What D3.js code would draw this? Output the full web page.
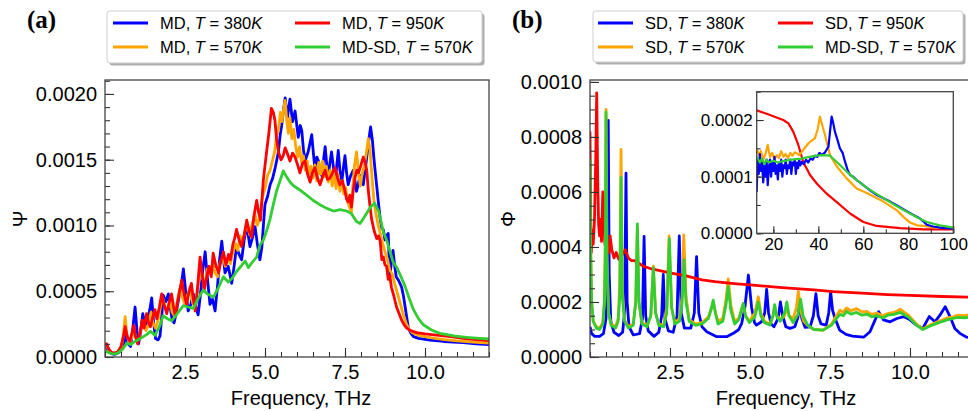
<!DOCTYPE html>
<html>
<head>
<meta charset="utf-8">
<script src="https://cdn.jsdelivr.net/npm/d3@7"></script>
<style>
  body { margin: 0; background: #fff; }
  svg { display: block; font-family: "Liberation Sans", Arial, sans-serif; }
</style>
</head>
<body>
<div id="chart"></div>
<script>
// all spectra values are in units of 1e-4, frequency in THz

// (a) MD spectra, Psi
const mdBlue380 = [[0,0.9],[0.05,0.7],[0.12,0.4],[0.2,0.25],[0.3,0.2],[0.4,0.3],[0.5,0.5],[0.58,0.9],[0.65,1.6],[0.72,1.0],[0.8,0.8],[0.87,2.2],[0.94,3.8],[1.0,2.0],[1.05,1.0],[1.12,2.0],[1.18,3.3],[1.26,2.4],[1.34,2.9],[1.4,3.6],[1.46,4.5],[1.52,2.6],[1.58,1.4],[1.66,1.3],[1.72,1.6],[1.77,3.0],[1.82,4.7],[1.9,4.2],[1.98,4.8],[2.05,3.6],[2.1,2.8],[2.16,2.6],[2.22,3.3],[2.3,4.4],[2.38,5.4],[2.45,6.7],[2.52,5.0],[2.6,3.5],[2.68,4.0],[2.76,4.8],[2.84,3.8],[2.91,3.2],[2.98,4.7],[3.05,6.5],[3.13,8.0],[3.2,6.0],[3.28,4.0],[3.36,4.4],[3.44,3.5],[3.52,5.5],[3.58,7.4],[3.65,8.8],[3.7,7.5],[3.75,6.4],[3.85,6.9],[3.96,5.6],[4.04,7.0],[4.11,8.4],[4.19,7.8],[4.27,7.4],[4.35,8.9],[4.43,10.1],[4.48,9.2],[4.53,8.4],[4.6,9.0],[4.69,9.9],[4.76,8.6],[4.84,7.4],[4.9,8.3],[4.95,10.0],[5.0,11.6],[5.08,12.2],[5.16,13.1],[5.24,13.6],[5.31,14.3],[5.37,15.0],[5.42,15.6],[5.47,16.8],[5.52,17.6],[5.58,18.8],[5.63,19.7],[5.7,18.2],[5.78,19.6],[5.86,17.9],[5.94,18.7],[6.04,16.7],[6.1,17.6],[6.15,17.2],[6.2,15.8],[6.25,14.9],[6.35,15.6],[6.46,16.9],[6.52,15.3],[6.56,14.3],[6.62,15.2],[6.67,14.9],[6.72,14.0],[6.77,13.8],[6.83,15.0],[6.88,16.0],[6.93,14.6],[6.98,13.8],[7.03,14.8],[7.08,15.6],[7.14,14.4],[7.19,13.3],[7.24,14.5],[7.29,15.7],[7.34,14.2],[7.4,13.3],[7.45,14.4],[7.5,15.3],[7.55,14.0],[7.6,13.1],[7.68,13.8],[7.76,14.2],[7.81,13.4],[7.86,12.6],[7.92,13.2],[7.97,13.8],[8.02,13.4],[8.07,13.1],[8.14,14.4],[8.2,15.6],[8.26,16.8],[8.3,17.5],[8.36,16.4],[8.4,15.2],[8.44,14.2],[8.5,12.8],[8.55,11.6],[8.6,10.5],[8.65,9.8],[8.7,9.66],[8.75,8.9],[8.8,9.2],[8.85,9.4],[8.9,6.1],[8.95,7.2],[9.0,8.1],[9.05,7.0],[9.1,6.1],[9.18,5.8],[9.27,5.3],[9.33,4.6],[9.38,3.8],[9.43,3.0],[9.48,2.2],[9.56,1.8],[9.64,1.55],[9.8,1.42],[10.16,1.29],[10.6,1.18],[11.2,1.09],[11.6,1.0],[12.0,0.95]];

const mdOrange570 = [[0,0.8],[0.05,0.9],[0.12,0.5],[0.2,0.3],[0.3,0.25],[0.4,0.35],[0.5,0.6],[0.56,1.4],[0.63,3.06],[0.68,1.8],[0.76,1.0],[0.84,1.5],[0.9,2.1],[0.97,1.4],[1.05,1.3],[1.12,2.1],[1.2,2.7],[1.28,2.0],[1.36,2.5],[1.44,3.4],[1.5,2.6],[1.58,2.2],[1.66,2.8],[1.74,3.9],[1.8,4.5],[1.88,3.8],[1.95,3.6],[2.03,4.3],[2.1,3.4],[2.18,3.1],[2.26,4.3],[2.34,5.2],[2.42,4.5],[2.5,4.0],[2.58,4.7],[2.66,5.3],[2.74,4.1],[2.82,3.8],[2.9,5.2],[2.98,6.8],[3.05,6.0],[3.12,5.4],[3.2,6.7],[3.28,6.3],[3.36,7.1],[3.44,6.4],[3.52,6.1],[3.6,7.2],[3.68,7.6],[3.76,6.9],[3.84,7.5],[3.92,7.1],[4.0,8.0],[4.08,8.6],[4.15,8.1],[4.22,9.2],[4.3,8.8],[4.38,9.6],[4.46,10.0],[4.52,9.3],[4.6,10.1],[4.68,10.9],[4.76,10.0],[4.84,10.6],[4.92,12.2],[5.0,12.8],[5.08,13.8],[5.16,14.2],[5.24,15.0],[5.3,15.6],[5.36,16.8],[5.42,17.2],[5.48,18.6],[5.53,17.9],[5.58,18.8],[5.63,19.5],[5.68,18.0],[5.73,17.0],[5.78,18.2],[5.84,16.6],[5.9,17.3],[5.96,16.0],[6.02,15.2],[6.08,16.0],[6.14,14.8],[6.2,15.3],[6.26,14.2],[6.32,14.9],[6.38,13.8],[6.44,14.5],[6.5,13.6],[6.56,14.6],[6.62,13.4],[6.68,14.8],[6.74,13.9],[6.8,14.9],[6.86,13.7],[6.92,14.5],[6.98,13.3],[7.04,14.2],[7.1,13.0],[7.16,14.0],[7.22,12.8],[7.28,13.9],[7.34,12.6],[7.4,13.4],[7.46,12.4],[7.52,12.9],[7.58,11.8],[7.64,11.4],[7.7,11.0],[7.74,12.8],[7.8,14.6],[7.86,15.6],[7.92,14.0],[7.98,13.0],[8.04,14.0],[8.1,14.5],[8.16,15.4],[8.23,16.6],[8.28,15.8],[8.34,13.8],[8.4,12.0],[8.46,11.0],[8.52,10.2],[8.6,9.4],[8.68,8.6],[8.75,8.0],[8.82,7.5],[8.9,6.6],[8.98,6.3],[9.05,5.6],[9.12,5.0],[9.2,4.3],[9.28,3.6],[9.35,3.0],[9.42,2.5],[9.5,2.1],[9.6,1.85],[9.8,1.65],[10.2,1.45],[10.6,1.32],[11.0,1.22],[11.5,1.13],[12.0,1.05]];

const mdRed950 = [[0,0.9],[0.05,1.0],[0.12,0.6],[0.2,0.35],[0.3,0.3],[0.4,0.4],[0.5,0.8],[0.58,1.6],[0.63,2.3],[0.7,1.5],[0.78,1.2],[0.85,1.9],[0.9,2.4],[0.96,1.5],[1.02,1.0],[1.1,1.9],[1.16,2.8],[1.22,2.2],[1.3,3.3],[1.36,2.6],[1.42,2.3],[1.5,3.1],[1.56,3.6],[1.62,2.9],[1.7,3.8],[1.77,4.8],[1.84,4.0],[1.93,3.3],[2.0,4.1],[2.08,4.8],[2.15,3.7],[2.2,3.1],[2.27,4.2],[2.33,5.0],[2.4,5.85],[2.47,4.8],[2.55,4.0],[2.62,4.9],[2.7,5.6],[2.76,4.4],[2.82,3.5],[2.9,5.5],[2.97,7.6],[3.04,6.2],[3.1,5.1],[3.17,6.0],[3.25,6.9],[3.32,6.1],[3.38,7.9],[3.46,7.0],[3.55,6.4],[3.62,7.3],[3.7,8.0],[3.78,7.0],[3.86,7.8],[3.92,7.4],[4.0,8.6],[4.05,9.0],[4.11,9.7],[4.19,8.9],[4.27,8.4],[4.35,9.3],[4.43,10.4],[4.5,9.6],[4.58,9.1],[4.66,10.8],[4.74,11.9],[4.8,11.0],[4.86,10.4],[4.95,13.5],[5.05,15.6],[5.12,17.0],[5.2,18.9],[5.26,18.6],[5.31,18.0],[5.36,16.6],[5.42,15.6],[5.5,15.0],[5.57,15.3],[5.63,15.9],[5.68,15.6],[5.78,14.9],[5.86,15.5],[5.94,15.2],[6.02,14.6],[6.09,14.0],[6.17,14.7],[6.25,14.9],[6.33,13.9],[6.41,13.3],[6.48,14.0],[6.56,14.4],[6.64,13.6],[6.72,13.1],[6.8,13.7],[6.88,14.2],[6.95,13.5],[7.03,13.6],[7.11,14.0],[7.19,14.4],[7.27,13.6],[7.34,13.1],[7.42,13.4],[7.5,12.6],[7.55,12.0],[7.6,11.8],[7.65,12.3],[7.7,11.4],[7.76,12.7],[7.81,13.6],[7.87,14.2],[7.92,14.0],[8.0,14.6],[8.07,15.2],[8.13,14.8],[8.18,14.2],[8.23,12.6],[8.28,11.5],[8.33,10.5],[8.41,9.6],[8.49,9.0],[8.55,9.2],[8.6,8.8],[8.65,7.4],[8.7,7.6],[8.75,7.0],[8.8,6.9],[8.85,5.9],[8.9,6.2],[8.95,5.3],[9.03,4.6],[9.11,3.8],[9.19,3.3],[9.27,2.8],[9.35,2.45],[9.43,2.2],[9.55,2.0],[9.74,1.85],[10.0,1.76],[10.36,1.67],[10.8,1.55],[11.2,1.42],[11.6,1.32],[12.0,1.24]];

const mdsdGreenA = [[0,0.45],[0.1,0.35],[0.25,0.22],[0.4,0.3],[0.55,0.6],[0.68,1.05],[0.8,0.95],[0.95,1.2],[1.1,1.4],[1.2,1.55],[1.3,1.7],[1.42,1.95],[1.56,1.65],[1.7,2.3],[1.82,3.15],[1.95,2.9],[2.08,2.75],[2.2,3.1],[2.32,3.5],[2.45,3.9],[2.6,3.8],[2.76,3.7],[2.9,4.4],[3.07,5.1],[3.2,4.8],[3.39,4.55],[3.55,5.3],[3.7,6.1],[3.85,5.7],[3.98,6.0],[4.11,6.5],[4.25,6.9],[4.38,7.3],[4.48,6.8],[4.6,7.2],[4.74,7.6],[4.84,8.5],[4.95,8.9],[5.05,9.6],[5.16,10.5],[5.26,11.6],[5.36,12.6],[5.47,13.4],[5.57,14.15],[5.65,13.8],[5.78,13.3],[5.9,13.0],[6.09,12.7],[6.3,12.3],[6.51,11.9],[6.7,11.6],[6.93,11.3],[7.14,11.1],[7.35,11.2],[7.55,11.1],[7.7,10.9],[7.86,10.3],[7.97,10.15],[8.07,10.5],[8.18,10.95],[8.3,11.4],[8.42,11.7],[8.55,11.1],[8.7,9.5],[8.8,8.9],[9.0,7.25],[9.12,6.8],[9.25,6.1],[9.38,5.35],[9.5,4.5],[9.64,3.6],[9.8,2.9],[9.95,2.45],[10.2,2.05],[10.47,1.8],[10.9,1.6],[11.3,1.5],[11.7,1.42],[12,1.37]];

// (b) SD spectra, Phi
const sdBlue380 = [[0,1.1],[0.05,0.85],[0.15,0.75],[0.3,0.75],[0.42,0.85],[0.5,1.4],[0.54,3.0],[0.57,8.6],[0.6,3.0],[0.65,1.3],[0.75,0.9],[0.9,0.78],[1.02,0.9],[1.08,1.6],[1.125,6.68],[1.16,2.0],[1.22,1.1],[1.35,0.8],[1.55,0.85],[1.64,1.4],[1.69,4.38],[1.74,1.5],[1.82,0.95],[2.0,0.75],[2.15,0.9],[2.24,1.5],[2.29,3.0],[2.34,1.4],[2.45,0.95],[2.6,0.9],[2.72,1.5],[2.79,4.4],[2.85,1.6],[2.95,1.05],[3.15,1.05],[3.26,1.6],[3.33,3.65],[3.4,1.6],[3.5,1.1],[3.65,0.92],[3.96,0.74],[4.27,0.74],[4.48,0.86],[4.65,1.0],[4.74,1.22],[4.84,1.8],[4.95,2.98],[5.05,1.8],[5.14,1.25],[5.2,1.16],[5.36,1.28],[5.46,1.6],[5.52,2.46],[5.58,1.6],[5.66,1.2],[5.75,1.1],[5.88,1.4],[5.95,2.0],[6.02,1.5],[6.12,1.1],[6.25,1.04],[6.4,1.1],[6.5,1.45],[6.56,2.07],[6.62,1.4],[6.72,1.08],[6.88,1.1],[6.98,1.5],[7.06,2.3],[7.13,1.5],[7.22,1.2],[7.38,1.16],[7.46,1.6],[7.52,2.38],[7.58,1.7],[7.66,1.4],[7.8,0.98],[8.0,0.82],[8.2,0.76],[8.55,0.72],[8.75,0.92],[8.91,1.35],[9.02,1.65],[9.17,1.35],[9.38,1.28],[9.59,1.4],[9.8,1.47],[10.0,1.35],[10.2,1.16],[10.4,1.04],[10.6,1.47],[10.78,1.28],[10.94,1.53],[11.1,1.83],[11.25,1.47],[11.4,1.04],[11.56,0.86],[11.77,0.72],[12,0.7]];

const sdOrange570 = [[0,7.2],[0.02,4.0],[0.05,2.0],[0.1,1.3],[0.2,1.1],[0.3,1.05],[0.4,1.25],[0.45,2.0],[0.48,4.2],[0.5,9.0],[0.53,3.6],[0.58,1.6],[0.66,1.2],[0.8,1.1],[0.88,1.4],[0.93,2.6],[0.97,7.55],[1.01,2.5],[1.08,1.35],[1.2,1.1],[1.35,1.2],[1.43,2.0],[1.48,4.7],[1.53,2.0],[1.62,1.25],[1.78,1.15],[1.9,1.5],[1.98,3.3],[2.05,1.6],[2.15,1.2],[2.3,1.15],[2.4,1.8],[2.47,4.4],[2.55,1.8],[2.65,1.25],[2.8,1.4],[2.88,2.2],[2.93,4.44],[3.0,2.2],[3.1,1.35],[3.3,1.2],[3.5,1.25],[3.7,1.45],[3.8,1.8],[3.85,2.0],[3.92,1.6],[4.0,1.3],[4.15,1.4],[4.25,2.1],[4.32,2.84],[4.4,1.9],[4.52,1.3],[4.65,1.4],[4.73,1.7],[4.79,1.9],[4.86,1.5],[4.98,1.3],[5.15,1.6],[5.26,2.19],[5.34,1.6],[5.45,1.3],[5.62,1.2],[5.72,1.5],[5.77,1.85],[5.84,1.5],[5.95,1.35],[6.08,1.5],[6.15,1.8],[6.22,1.5],[6.35,1.4],[6.45,1.8],[6.51,2.38],[6.58,1.7],[6.68,1.3],[6.8,1.15],[7.0,1.0],[7.29,0.98],[7.55,1.2],[7.7,1.5],[7.81,1.7],[7.9,1.62],[8.02,1.78],[8.15,1.68],[8.33,1.76],[8.5,1.64],[8.65,1.66],[8.8,1.55],[8.96,1.6],[9.15,1.5],[9.3,1.58],[9.5,1.62],[9.7,1.74],[9.85,1.6],[9.95,1.52],[10.2,1.2],[10.4,1.02],[10.55,1.12],[10.7,1.2],[10.9,1.3],[11.16,1.42],[11.35,1.46],[11.5,1.52],[11.7,1.5],[12,1.58]];

const sdRed950 = [[0,8.2],[0.02,5.0],[0.04,3.8],[0.07,4.6],[0.1,4.1],[0.14,5.0],[0.18,7.2],[0.21,9.6],[0.24,6.5],[0.27,4.8],[0.3,4.4],[0.33,5.0],[0.36,4.2],[0.4,6.0],[0.43,5.5],[0.46,4.2],[0.5,3.8],[0.55,4.1],[0.6,3.8],[0.63,4.4],[0.68,3.9],[0.75,3.6],[0.82,3.8],[0.9,3.55],[1.0,3.7],[1.1,3.9],[1.2,3.6],[1.3,3.5],[1.4,3.5],[1.67,3.3],[1.93,3.2],[2.5,3.06],[3.0,2.95],[3.5,2.8],[3.9,2.74],[4.5,2.67],[5.0,2.62],[6.0,2.52],[7.0,2.44],[7.6,2.38],[8.5,2.32],[9.3,2.27],[10.0,2.24],[11.0,2.2],[12.0,2.17]];

const mdsdGreenB = [[0,7.2],[0.02,4.0],[0.05,2.0],[0.1,1.3],[0.2,1.05],[0.3,1.0],[0.4,1.2],[0.45,2.0],[0.48,4.0],[0.5,8.9],[0.53,3.5],[0.58,1.6],[0.66,1.15],[0.8,1.05],[0.88,1.3],[0.93,2.2],[0.97,6.53],[1.01,2.2],[1.08,1.3],[1.2,1.05],[1.35,1.15],[1.43,2.0],[1.48,4.84],[1.53,2.0],[1.62,1.2],[1.78,1.1],[1.9,1.5],[1.98,3.25],[2.05,1.6],[2.15,1.15],[2.3,1.1],[2.4,1.6],[2.48,4.3],[2.55,1.8],[2.65,1.2],[2.8,1.3],[2.88,2.0],[2.94,3.53],[3.0,2.0],[3.1,1.3],[3.3,1.15],[3.5,1.2],[3.7,1.4],[3.8,1.8],[3.85,2.07],[3.92,1.6],[4.0,1.2],[4.15,1.3],[4.25,1.9],[4.32,2.56],[4.4,1.7],[4.52,1.2],[4.65,1.35],[4.73,1.7],[4.79,1.95],[4.86,1.5],[4.98,1.25],[5.15,1.45],[5.26,2.0],[5.34,1.5],[5.45,1.25],[5.62,1.16],[5.72,1.5],[5.77,1.9],[5.84,1.45],[5.95,1.3],[6.08,1.6],[6.15,2.0],[6.22,1.5],[6.35,1.25],[6.5,1.55],[6.58,2.1],[6.66,1.5],[6.8,1.16],[7.0,1.0],[7.29,0.98],[7.55,1.16],[7.7,1.4],[7.81,1.55],[7.92,1.5],[8.02,1.66],[8.15,1.56],[8.33,1.62],[8.5,1.52],[8.65,1.56],[8.8,1.46],[8.96,1.5],[9.15,1.42],[9.3,1.52],[9.5,1.55],[9.7,1.62],[9.85,1.52],[9.95,1.45],[10.2,1.16],[10.4,1.0],[10.55,1.08],[10.7,1.16],[10.9,1.25],[11.16,1.35],[11.35,1.4],[11.5,1.44],[11.7,1.42],[12,1.47]];

// (b) inset
const inBlue380 = [[12.6,0.73],[13.0,1.3],[13.5,1.05],[14,1.4],[14.5,1.1],[15,1.25],[15.5,0.9],[16,1.2],[16.5,1.0],[17,1.3],[17.5,0.85],[18,1.15],[18.5,1.3],[19,1.0],[19.5,1.25],[20,1.1],[20.5,1.35],[21,1.05],[21.5,1.2],[22,0.95],[22.5,1.25],[23,1.1],[23.5,1.3],[24,1.0],[24.5,1.2],[25,1.15],[25.5,1.3],[26,1.05],[26.5,1.2],[27,1.15],[27.5,1.3],[28,1.05],[28.5,1.25],[29,1.2],[29.5,1.3],[30,1.05],[30.5,1.25],[31,1.15],[31.5,1.3],[32,1.2],[32.6,1.26],[33.5,1.22],[34.5,1.3],[35.5,1.25],[36.5,1.32],[37.5,1.3],[38.5,1.37],[39.5,1.35],[40.5,1.42],[41.5,1.38],[43,1.43],[44.5,1.53],[45.2,1.8],[45.9,2.06],[46.6,1.95],[47.4,1.79],[48.5,1.65],[49.6,1.5],[50.8,1.42],[51.9,1.26],[53,1.12],[54.1,1.03],[55.5,1.0],[57,0.94],[58.5,0.9],[60,0.85],[63,0.76],[65.9,0.68],[68.9,0.62],[71.9,0.56],[75,0.49],[79.3,0.39],[82,0.33],[85.2,0.26],[87,0.2],[88.2,0.15],[91,0.12],[94.1,0.1],[100,0.08]];
const inOrange570 = [[12.6,1.5],[13.5,1.38],[14.5,1.45],[15.5,1.3],[16.5,1.4],[17.5,1.56],[18.5,1.35],[19.5,1.42],[20.5,1.3],[21.5,1.38],[22.5,1.33],[23.5,1.45],[24.5,1.35],[25.5,1.4],[26.5,1.33],[27.5,1.42],[28.5,1.37],[29.5,1.43],[30.4,1.41],[31.5,1.38],[33.3,1.47],[35.6,1.59],[38.5,1.68],[39.8,1.85],[40.7,2.06],[41.8,1.9],[43,1.73],[45.2,1.38],[48.2,1.18],[52.6,0.97],[57,0.79],[61.5,0.71],[65,0.64],[68.9,0.56],[72,0.48],[74.8,0.41],[77.8,0.29],[80.8,0.19],[84,0.14],[86.7,0.13],[92,0.1],[100,0.09]];
const inRed950 = [[12.6,2.17],[18.5,2.09],[24.4,2.0],[26.7,1.94],[28.9,1.79],[31.1,1.56],[33.3,1.26],[36.3,1.03],[39.3,0.88],[43.7,0.7],[48.2,0.55],[54.1,0.35],[60,0.2],[65.9,0.13],[76.3,0.09],[86.7,0.07],[100,0.07]];
const inGreen570 = [[12.6,1.35],[14,1.25],[15,1.32],[16,1.22],[17,1.3],[18,1.25],[20,1.28],[22,1.25],[25,1.28],[28,1.3],[32.6,1.32],[36,1.35],[39.3,1.37],[42,1.38],[45.2,1.37],[48.2,1.26],[52.6,1.09],[56,0.97],[60,0.85],[64,0.74],[68.9,0.62],[74,0.5],[79.3,0.38],[84,0.28],[88.2,0.2],[94,0.14],[100,0.1]];

// ticks
const freqMajor = [2.5, 5, 7.5, 10];
const psiMajor = [0, 5, 10, 15, 20];
const phiMajor = [0, 2, 4, 6, 8, 10];
const insetXMajor = [20, 40, 60, 80, 100];
const insetYMajor = [0, 1, 2];

const legendA = [
  { name: 'MD, ', T: '380', color: '#0000ff' },
  { name: 'MD, ', T: '950', color: '#ff0000' },
  { name: 'MD, ', T: '570', color: '#ffa500' },
  { name: 'MD-SD, ', T: '570', color: '#32cd32' }
];
const legendB = [
  { name: 'SD, ', T: '380', color: '#0000ff' },
  { name: 'SD, ', T: '950', color: '#ff0000' },
  { name: 'SD, ', T: '570', color: '#ffa500' },
  { name: 'MD-SD, ', T: '570', color: '#32cd32' }
];

const svg = d3.select('#chart').append('svg')
  .attr('width', 968)
  .attr('height', 411);

const fmt4 = d => (d * 1e-4).toFixed(4);
let clipId = 0;

function drawPlot(o) {
  const x = d3.scaleLinear().domain(o.xDomain).range([o.left, o.right]);
  const y = d3.scaleLinear().domain(o.yDomain).range([o.bottom, o.top]);
  const g = svg.append('g');

  g.append('rect')
    .attr('x', o.left).attr('y', o.top)
    .attr('width', o.right - o.left).attr('height', o.bottom - o.top)
    .attr('fill', '#fff');

  const id = 'clip' + (clipId++);
  g.append('clipPath').attr('id', id).append('rect')
    .attr('x', o.left).attr('y', o.top)
    .attr('width', o.right - o.left).attr('height', o.bottom - o.top);

  const line = d3.line().x(d => x(d[0])).y(d => y(d[1]));
  const lg = g.append('g').attr('clip-path', `url(#${id})`);
  o.series.forEach(s => {
    lg.append('path')
      .attr('d', line(s.data))
      .attr('fill', 'none')
      .attr('stroke', s.color)
      .attr('stroke-width', o.lw)
      .attr('stroke-linejoin', 'round');
  });

  // minor ticks, pointing inward
  const xMinor = d3.range(o.xDomain[0] - (o.xDomain[0] % o.xMinorStep), o.xDomain[1] + 1e-9, o.xMinorStep)
    .filter(v => v >= o.xDomain[0]);
  const yMinor = d3.range(0, o.yDomain[1] + 1e-9, o.yMinorStep);
  g.append('g').attr('transform', `translate(0,${o.bottom})`)
    .call(d3.axisBottom(x).tickValues(xMinor).tickSize(-o.minorLen).tickFormat(''))
    .call(a => a.select('.domain').remove());
  g.append('g').attr('transform', `translate(${o.left},0)`)
    .call(d3.axisLeft(y).tickValues(yMinor).tickSize(-o.minorLen).tickFormat(''))
    .call(a => a.select('.domain').remove());

  // major ticks
  g.append('g').attr('transform', `translate(0,${o.bottom})`)
    .call(d3.axisBottom(x).tickValues(o.xMajor).tickSize(-o.majorLen).tickPadding(o.xPad)
      .tickFormat(o.xFormat))
    .call(a => a.select('.domain').remove())
    .call(a => a.selectAll('text').attr('fill', '#000').style('font-size', o.fontSize + 'px'));
  g.append('g').attr('transform', `translate(${o.left},0)`)
    .call(d3.axisLeft(y).tickValues(o.yMajor).tickSize(-o.majorLen).tickPadding(o.yPad)
      .tickFormat(fmt4))
    .call(a => a.select('.domain').remove())
    .call(a => a.selectAll('text').attr('fill', '#000').style('font-size', o.fontSize + 'px'));

  g.selectAll('.tick line').attr('stroke', '#333').attr('stroke-width', 1.1);

  g.append('rect')
    .attr('x', o.left).attr('y', o.top)
    .attr('width', o.right - o.left).attr('height', o.bottom - o.top)
    .attr('fill', 'none').attr('stroke', '#444').attr('stroke-width', 1.3);
}

function drawLegend(items, box) {
  const g = svg.append('g');
  g.append('rect')
    .attr('x', box.x + 2.5).attr('y', box.y + 2.5)
    .attr('width', box.w).attr('height', box.h)
    .attr('rx', 3).attr('fill', '#9a9a9a').attr('opacity', 0.8);
  g.append('rect')
    .attr('x', box.x).attr('y', box.y)
    .attr('width', box.w).attr('height', box.h)
    .attr('rx', 3).attr('fill', '#fff').attr('stroke', '#cfcfcf').attr('stroke-width', 1);
  items.forEach((d, i) => {
    const col = i % 2, row = Math.floor(i / 2);
    const lx = box.cols[col], ly = box.y + 12 + row * 24;
    g.append('line')
      .attr('x1', lx).attr('x2', lx + 35).attr('y1', ly).attr('y2', ly)
      .attr('stroke', d.color).attr('stroke-width', 3);
    const t = g.append('text')
      .attr('x', lx + 47).attr('y', ly + 6)
      .style('font-size', '16.5px');
    t.append('tspan').text(d.name);
    t.append('tspan').attr('font-style', 'italic').text('T');
    t.append('tspan').text(' = ' + d.T);
    t.append('tspan').attr('font-style', 'italic').text('K');
  });
}

// panel (a)
drawPlot({
  left: 105, right: 489, top: 80, bottom: 357,
  xDomain: [0, 12], yDomain: [0, 21.06],
  xMajor: freqMajor, yMajor: psiMajor, xMinorStep: 0.5, yMinorStep: 1,
  xFormat: d3.format('.1f'), majorLen: 9, minorLen: 5, xPad: 8, yPad: 8,
  fontSize: 20, lw: 2.8,
  series: [
    { data: mdBlue380, color: '#0000ff' },
    { data: mdOrange570, color: '#ffa500' },
    { data: mdRed950, color: '#ff0000' },
    { data: mdsdGreenA, color: '#32cd32' }
  ]
});

// panel (b)
drawPlot({
  left: 590, right: 974, top: 80, bottom: 357,
  xDomain: [0, 12], yDomain: [0, 10.07],
  xMajor: freqMajor, yMajor: phiMajor, xMinorStep: 0.5, yMinorStep: 0.5,
  xFormat: d3.format('.1f'), majorLen: 9, minorLen: 5, xPad: 8, yPad: 8,
  fontSize: 20, lw: 2.8,
  series: [
    { data: sdBlue380, color: '#0000ff' },
    { data: sdOrange570, color: '#ffa500' },
    { data: sdRed950, color: '#ff0000' },
    { data: mdsdGreenB, color: '#32cd32' }
  ]
});

// inset of (b)
drawPlot({
  left: 756.7, right: 953.3, top: 91.7, bottom: 233.3,
  xDomain: [12.6, 100], yDomain: [0, 2.5],
  xMajor: insetXMajor, yMajor: insetYMajor, xMinorStep: 10, yMinorStep: 0.5,
  xFormat: d3.format('d'), majorLen: 7, minorLen: 4, xPad: 5, yPad: 4,
  fontSize: 17, lw: 2.2,
  series: [
    { data: inRed950, color: '#ff0000' },
    { data: inOrange570, color: '#ffa500' },
    { data: inBlue380, color: '#0000ff' },
    { data: inGreen570, color: '#32cd32' }
  ]
});

// axis titles
svg.append('text').attr('x', 301).attr('y', 405).attr('text-anchor', 'middle')
  .style('font-size', '20px').text('Frequency, THz');
svg.append('text').attr('x', 786).attr('y', 405).attr('text-anchor', 'middle')
  .style('font-size', '20px').text('Frequency, THz');
svg.append('text').attr('transform', 'translate(20,219) rotate(-90)')
  .attr('text-anchor', 'middle').attr('dominant-baseline', 'central')
  .style('font-size', '20px').text('Ψ');
svg.append('text').attr('transform', 'translate(508,219) rotate(-90)')
  .attr('text-anchor', 'middle').attr('dominant-baseline', 'central')
  .style('font-size', '20px').text('Φ');

// panel labels
svg.append('text').attr('x', 27).attr('y', 28)
  .style('font-family', '"Liberation Serif", "Times New Roman", serif')
  .style('font-weight', 'bold').style('font-size', '25px').text('(a)');
svg.append('text').attr('x', 512).attr('y', 28)
  .style('font-family', '"Liberation Serif", "Times New Roman", serif')
  .style('font-weight', 'bold').style('font-size', '25px').text('(b)');

drawLegend(legendA, { x: 107, y: 11, w: 375, h: 52, cols: [113, 295] });
drawLegend(legendB, { x: 593, y: 11, w: 370, h: 51, cols: [598, 778] });
</script>
</body>
</html>
